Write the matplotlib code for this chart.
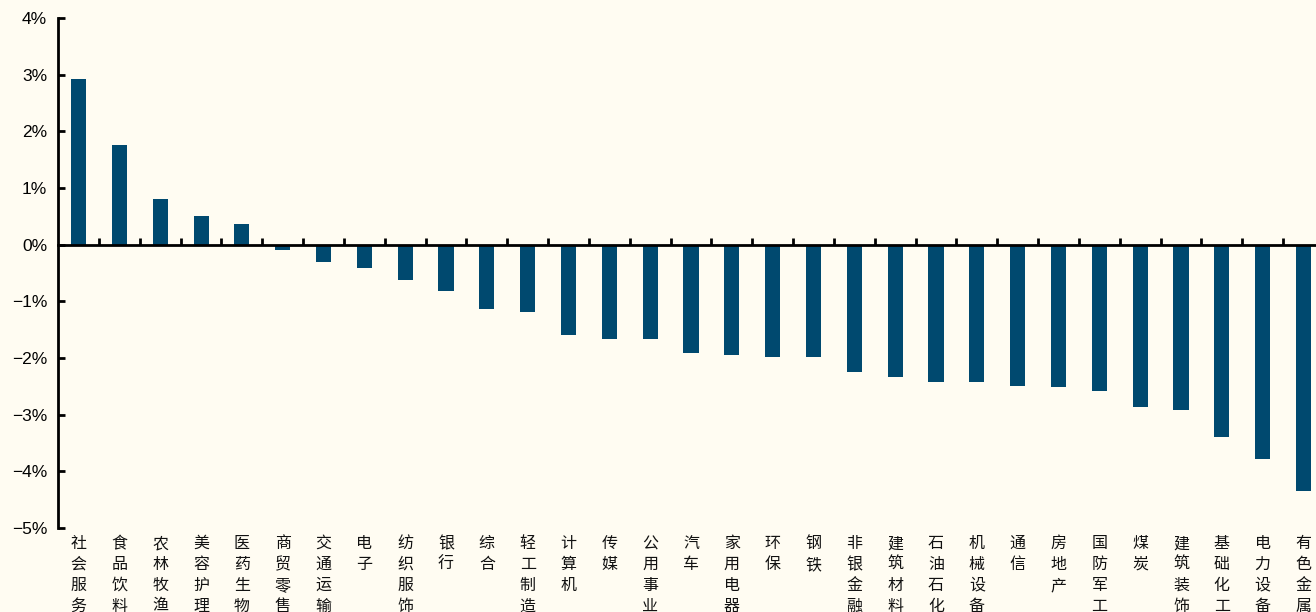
import matplotlib
matplotlib.use("Agg")
import matplotlib.pyplot as plt
import matplotlib.transforms as mtransforms
from matplotlib.ticker import FuncFormatter

# ---- 数据 ----
industries = [
    "社会服务", "食品饮料", "农林牧渔", "美容护理", "医药生物", "商贸零售",
    "交通运输", "电子", "纺织服饰", "银行", "综合", "轻工制造", "计算机",
    "传媒", "公用事业", "汽车", "家用电器", "环保", "钢铁", "非银金融",
    "建筑材料", "石油石化", "机械设备", "通信", "房地产", "国防军工",
    "煤炭", "建筑装饰", "基础化工", "电力设备", "有色金属",
]
returns_pct = [
    2.93, 1.75, 0.80, 0.51, 0.36, -0.10,
    -0.30, -0.41, -0.63, -0.81, -1.14, -1.18, -1.59,
    -1.66, -1.66, -1.91, -1.94, -1.98, -1.98, -2.24,
    -2.33, -2.42, -2.42, -2.49, -2.51, -2.59,
    -2.86, -2.91, -3.39, -3.79, -4.34,
]
y_ticks = [-5, -4, -3, -2, -1, 0, 1, 2, 3, 4]

BG = "#FFFCF2"
BAR = "#00496F"

plt.rcParams["font.family"] = ["Noto Sans CJK SC", "DejaVu Sans"]

fig = plt.figure(figsize=(13.16, 6.12), dpi=100, facecolor=BG)
# 右侧坐标轴略超出画布（与原图一致）
ax = fig.add_axes([0.0442, 0.1373, 0.9618, 0.8333], facecolor=BG)

x = list(range(len(industries)))
ax.bar(x, returns_pct, width=0.37, color=BAR, zorder=2)

ax.set_xlim(-0.5, len(industries) - 0.5)
ax.set_ylim(-5, 4)
ax.set_yticks(y_ticks)
ax.yaxis.set_major_formatter(FuncFormatter(lambda v, p: f"{int(v)}%".replace("-", "\u2212")))
for lab in ax.get_yticklabels():
    lab.set_family(["Liberation Sans", "DejaVu Sans"])
ax.tick_params(axis="y", direction="in", length=5, width=2, pad=8, labelsize=12.5, colors="black")

# x 轴放在 0 处，刻度在类别之间、朝上
ax.spines["top"].set_visible(False)
ax.spines["right"].set_visible(False)
ax.spines["bottom"].set_position(("data", 0))
ax.spines["bottom"].set_linewidth(2)
ax.spines["left"].set_linewidth(2)
ax.set_xticks([i + 0.5 for i in x[:-1]])
ax.set_xticklabels([])
ax.xaxis.set_ticks_position("bottom")
ax.tick_params(axis="x", direction="in", length=5, width=2)

# 竖排行业名称
trans = mtransforms.blended_transform_factory(ax.transData, ax.transAxes)
for i, name in enumerate(industries):
    ax.text(i, -0.014, "\n".join(name), transform=trans, ha="center", va="top",
            fontsize=11.5, linespacing=1.3, color="#111111")

fig.savefig("out.png", dpi=100, facecolor=BG)
